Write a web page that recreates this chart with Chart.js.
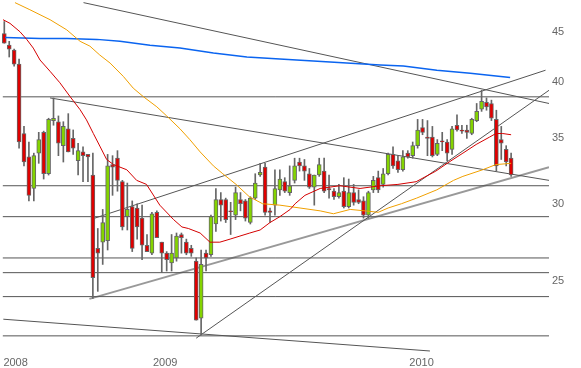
<!DOCTYPE html>
<html>
<head>
<meta charset="utf-8">
<script src="https://cdn.jsdelivr.net/npm/chart.js@4.4.1/dist/chart.umd.min.js"></script>
<style>
  body { margin: 0; background: #fff; }
  #wrap { width: 581px; height: 368px; }
</style>
</head>
<body>
<div id="wrap"><canvas id="chart"></canvas></div>
<script>
// weekly candles, index 0 = first week shown
const opens = [44.8,43.6,43.1,41.7,35.4,33.5,31.1,33.8,35.5,32.2,36.5,36.4,34.4,35.8,35.0,33.2,33.9,33.7,
  32.1,27.0,27.4,27.5,32.9,33.4,31.6,29.1,29.8,29.7,29.0,27.2,26.7,29.4,27.4,26.7,26.1,26.4,27.9,27.4,27.0,26.2,
  22.9,26.7,26.6,28.6,30.3,30.3,29.5,29.2,30.3,30.2,28.7,30.4,32.1,32.7,29.5,29.9,31.0,31.6,30.8,31.7,
  33.1,32.8,32.2,31.2,32.1,32.4,31.1,30.9,30.5,30.9,29.8,30.8,30.3,30.2,29.2,31.0,31.9,31.4,32.2,33.7,
  33.2,32.5,33.8,33.6,34.4,35.9,35.1,35.1,33.7,34.8,34.7,34.1,36.1,35.7,35.7,35.4,36.5,37.5,38.1,38.0,
  36.6,34.9,34.1,33.4];
const highs = [46.1,44.0,43.2,42.2,36.0,34.7,33.8,35.5,35.6,36.7,38.5,36.9,36.4,37.1,35.7,34.6,34.3,33.7,
  33.8,28.3,29.6,33.7,33.6,34.0,31.7,31.5,30.2,30.0,29.9,27.9,29.4,29.5,27.4,26.8,27.9,28.0,28.0,27.6,27.2,26.4,
  26.9,26.9,29.2,31.1,30.8,30.4,30.1,31.2,30.8,30.3,30.5,32.2,33.0,33.0,29.7,32.5,32.5,31.9,32.8,33.4,
  33.4,33.3,32.6,32.1,33.4,33.4,32.1,31.1,31.4,31.9,31.8,31.4,31.0,30.5,30.9,32.0,32.4,32.6,33.8,34.3,
  33.6,34.0,34.0,34.7,36.6,36.6,36.5,36.0,34.9,35.5,34.9,36.0,37.0,36.1,36.1,36.7,38.0,39.2,38.5,38.3,
  37.4,36.0,34.4,33.8];
const lows = [43.8,42.4,41.5,34.2,32.8,30.2,30.2,33.0,31.8,32.1,36.1,33.6,33.1,33.9,33.7,32.1,31.6,31.6,
  24.0,24.4,26.0,26.9,30.6,30.9,28.2,28.2,26.8,27.6,26.3,26.8,26.6,27.7,25.5,25.6,25.6,26.2,26.7,26.6,26.5,22.8,
  22.0,25.6,26.5,28.1,28.8,28.7,27.9,28.9,29.5,28.8,28.6,30.3,32.0,29.2,28.7,29.2,30.6,30.8,30.6,31.5,
  32.4,31.7,31.1,29.9,32.0,30.8,30.4,30.3,30.4,29.7,29.7,29.9,30.0,29.0,29.0,30.8,30.8,31.2,32.1,32.6,
  32.3,32.4,33.4,33.4,34.2,35.3,33.6,33.5,33.6,34.0,33.2,33.7,35.6,35.4,35.0,35.3,36.4,37.3,37.4,36.5,
  32.4,33.3,32.8,32.0];
const closes = [43.8,43.2,41.7,34.7,33.1,30.6,33.6,34.9,32.2,36.6,36.7,34.6,36.0,33.9,34.2,34.0,33.6,33.5,
  25.2,26.7,28.7,32.8,32.7,31.7,28.4,29.6,27.0,28.4,27.2,26.8,29.3,27.7,26.7,26.3,26.7,27.8,27.7,26.7,26.7,22.8,
  26.0,26.4,29.1,30.3,29.9,28.9,29.45,30.8,30.0,29.0,30.4,31.5,32.3,29.4,29.4,31.1,31.8,30.9,31.3,32.8,
  32.8,32.4,31.2,32.1,32.9,30.9,31.0,30.5,30.8,29.8,30.8,30.1,30.1,29.2,30.8,31.7,31.0,32.2,33.7,32.8,
  32.5,33.5,33.5,34.4,35.7,35.5,35.0,33.6,34.6,34.7,33.8,35.8,35.7,35.6,35.5,36.6,37.3,38.2,37.7,36.7,
  32.8,34.6,33.1,32.1];

// moving averages (week index, price)
const maShortIdx = [-0.26,1.16,3.19,4.55,5.89,7.26,9.29,11.3,13.4,15.4,16.7,18.1,19.5,20.8,22.2,24.9,26.9,28.9,
  31.6,34.4,36.1,37.4,39.8,41.8,43.8,45.9,47.9,49.9,52.0,54.0,56.0,58.1,59.1,61.1,64.2,68.2,72.3,76.4,80.0,
  83.7,87.7,90.4,93.2,95.9,98.6,99.9,101.3,103.0];
const maShortVal = [46.3,45.9,45.0,44.2,43.3,42.1,41.0,39.9,38.6,37.45,36.56,35.4,34.3,33.3,32.9,32.5,31.7,31.4,
  29.9,28.9,28.4,28.3,28.0,27.4,27.4,27.6,27.8,28.0,28.2,28.7,29.1,29.6,30.0,30.6,31.1,31.3,31.1,31.3,31.4,
  31.6,32.4,33.1,33.8,34.5,35.1,35.4,35.4,35.3];
const maMidIdx = [2.17,5.2,9.3,12.7,15.4,17.4,19.4,21.5,24.2,26.2,28.3,31.0,33.0,35.7,37.7,39.8,42.5,44.4,47.1,
  49.8,52.5,56.0,60.1,64.2,66.9,70.3,73.3,76.0,78.0,80.7,83.8,87.9,91.3,93.2,97.2,99.9,103.0];
const maMidVal = [48.2,47.4,46.3,45.2,44.0,43.5,42.6,41.8,40.5,39.4,38.6,37.7,36.9,35.8,34.9,33.9,32.8,32.2,31.4,
  30.5,30.0,29.9,29.7,29.5,29.3,29.6,29.5,29.4,29.7,30.0,30.4,31.0,31.7,32.0,32.5,32.9,33.0];
const maLongIdx = [0.14,7.3,12.7,18.8,23.5,29.6,35.7,42.5,49.3,56.0,62.8,69.6,76.4,81.1,87.9,94.7,102.8];
const maLongVal = [44.4,44.3,44.3,44.2,44.0,43.6,43.3,42.8,42.4,42.2,42.0,41.8,41.6,41.5,41.1,40.8,40.4];

// drawn support / resistance levels and trend lines
const levels = [38.6, 31.3, 29.1, 26.4, 25.5, 24.1, 21.97];
const trendStart = [[16.1, 48.2], [9.3, 38.5], [18.4, 29.0], [39.0, 21.85], [-0.2, 22.85]];
const trendEnd = [[110.7, 38.0], [110.7, 31.7], [110.0, 41.1], [110.7, 39.2], [86.5, 21.2]];
const channelLow = [[17.3, 23.97], [110.7, 32.7]];

const yearLabels = ['2008', '2009', '2010'];
const yearTicks = [2.3, 32.7, 84.8];
const priceTicks = [25, 30, 35, 40, 45];

const xMin = -0.874, xMax = 110.7;
const gray = '#666';
const lineGray = '#555';

let datasets = [];

datasets.push({
    type: 'line', label: 'ma10',
    data: maShortIdx.map((x, i) => ({ x: x, y: maShortVal[i] })),
    borderColor: '#d40000', borderWidth: 1, pointRadius: 0, order: 0
});
datasets.push({
    type: 'line', label: 'ma30',
    data: maMidIdx.map((x, i) => ({ x: x, y: maMidVal[i] })),
    borderColor: '#f0a000', borderWidth: 1, pointRadius: 0, order: 0
});
datasets.push({
    type: 'line', label: 'ma100',
    data: maLongIdx.map((x, i) => ({ x: x, y: maLongVal[i] })),
    borderColor: '#0a64f0', borderWidth: 1.5, pointRadius: 0, order: 0
});

datasets.push({
    type: 'bar', label: 'body',
    data: opens.map((o, i) => ({ x: i, y: [o, closes[i]] })),
    backgroundColor: opens.map((o, i) => closes[i] >= o ? '#84d400' : '#e00000'),
    borderColor: gray, borderWidth: 1, borderSkipped: false,
    barThickness: 4, grouped: false, order: 1
});
datasets.push({
    type: 'bar', label: 'wick',
    data: opens.map((o, i) => ({ x: i, y: [lows[i], highs[i]] })),
    backgroundColor: gray, barThickness: 1, grouped: false, order: 2
});

levels.forEach(v => {
    datasets.push({
        type: 'line', data: [{ x: -0.3, y: v }, { x: xMax, y: v }],
        borderColor: lineGray, borderWidth: 1, pointRadius: 0, order: 3
    });
});
trendStart.forEach((p, i) => {
    datasets.push({
        type: 'line', data: [{ x: p[0], y: p[1] }, { x: trendEnd[i][0], y: trendEnd[i][1] }],
        borderColor: lineGray, borderWidth: 1, pointRadius: 0, order: 3
    });
});
datasets.push({
    type: 'line', data: channelLow.map(p => ({ x: p[0], y: p[1] })),
    borderColor: '#999', borderWidth: 2, pointRadius: 0, order: 3
});

new Chart(document.getElementById('chart'), {
    type: 'bar',
    data: { datasets: datasets },
    options: {
        responsive: true,
        maintainAspectRatio: false,
        animation: false,
        layout: { padding: 0 },
        plugins: { legend: { display: false }, tooltip: { enabled: false } },
        scales: {
            x: {
                type: 'linear', min: xMin, max: xMax, offset: false,
                grid: { display: false, drawTicks: false },
                border: { display: false },
                ticks: {
                    color: gray, font: { family: 'Arial', size: 11 }, padding: 3,
                    maxRotation: 0, autoSkip: false,
                    callback: v => yearLabels[yearTicks.indexOf(v)]
                },
                afterBuildTicks: s => { s.ticks = yearTicks.map(v => ({ value: v })); },
                afterFit: s => { s.height = 15; s.paddingLeft = 0; s.paddingRight = 0; }
            },
            y: {
                type: 'logarithmic', position: 'right', min: 21.1, max: 48.5,
                grid: { display: false, drawTicks: false },
                border: { display: false },
                ticks: {
                    color: gray, font: { family: 'Arial', size: 11 }, padding: 3,
                    callback: v => String(v)
                },
                afterBuildTicks: s => { s.ticks = priceTicks.map(v => ({ value: v })); },
                afterFit: s => { s.width = 32; s.paddingTop = 0; s.paddingBottom = 0; }
            }
        }
    }
});
</script>
</body>
</html>
